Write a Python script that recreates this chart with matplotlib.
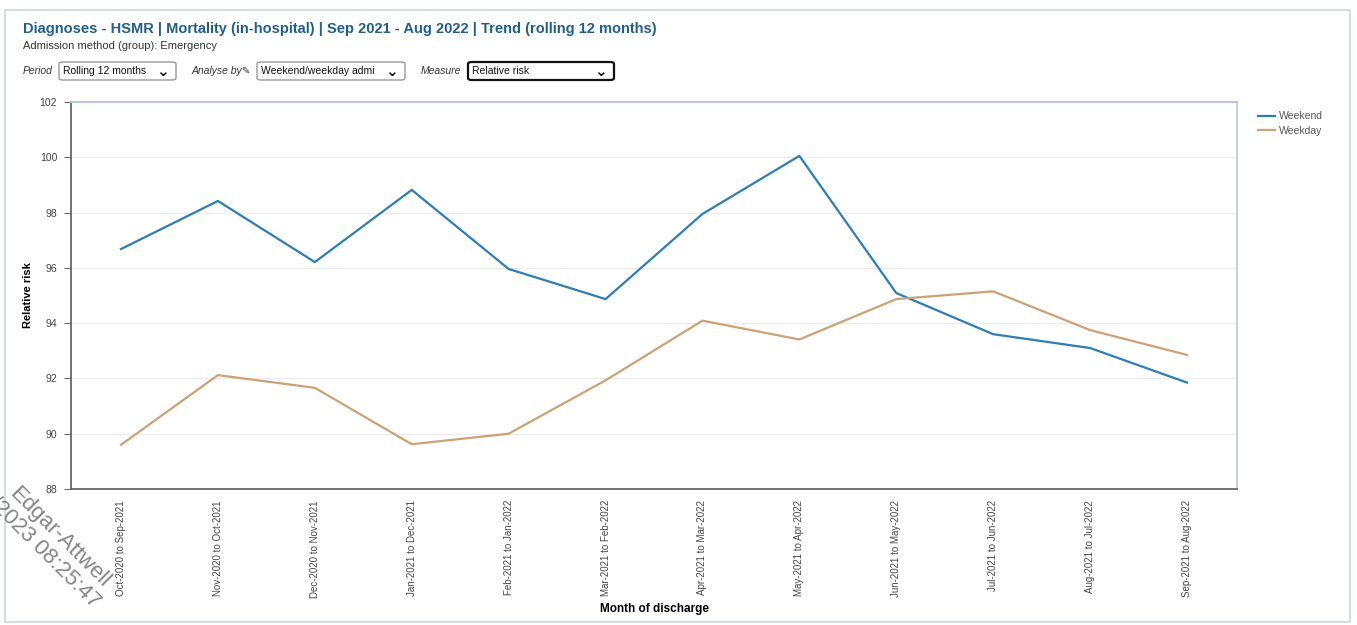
import matplotlib.pyplot as plt
from matplotlib.patches import Rectangle, FancyBboxPatch

plt.rcParams['font.family'] = ['Liberation Sans', 'DejaVu Sans']

periods = ["Oct-2020 to Sep-2021", "Nov-2020 to Oct-2021", "Dec-2020 to Nov-2021",
           "Jan-2021 to Dec-2021", "Feb-2021 to Jan-2022", "Mar-2021 to Feb-2022",
           "Apr-2021 to Mar-2022", "May-2021 to Apr-2022", "Jun-2021 to May-2022",
           "Jul-2021 to Jun-2022", "Aug-2021 to Jul-2022", "Sep-2021 to Aug-2022"]
weekend = [96.68, 98.42, 96.21, 98.82, 95.96, 94.87, 97.95, 100.05, 95.09, 93.60, 93.10, 91.85]
weekday = [89.60, 92.12, 91.66, 89.62, 90.00, 91.93, 94.09, 93.41, 94.87, 95.15, 93.75, 92.85]
yticks = [88, 90, 92, 94, 96, 98, 100, 102]

W, H = 1357, 625
fig = plt.figure(figsize=(W / 100, H / 100), dpi=100)

def fx(px):
    return px / W

def fy(py):
    return 1 - py / H

# outer panel border
fig.patches.append(Rectangle((fx(5), fy(622)), fx(1350 - 5), (622 - 10) / H,
                             transform=fig.transFigure, fill=False,
                             edgecolor="#cdd5dd", lw=1.2))

ax = fig.add_axes([fx(71), fy(489), fx(1237 - 71), (489 - 102) / H])
x = list(range(len(periods)))
ax.plot(x, weekend, color="#2a7fba", lw=1.6, label="Weekend")
ax.plot(x, weekday, color="#cca272", lw=1.6, label="Weekday")

ax.set_xlim(-0.516, len(periods) - 1 + 0.516)
ax.set_ylim(88, 102)
ax.set_yticks(yticks)
ax.set_yticklabels([str(v) for v in yticks], fontsize=7.5, color="#444444")
ax.set_xticks(x)
ax.set_xticklabels(periods, rotation=90, fontsize=7, color="#444444")
ax.tick_params(axis="y", length=5, color="#666666", pad=5)
ax.tick_params(axis="x", length=0, pad=8)
ax.grid(axis="y", color="#ececec", lw=1)
ax.set_axisbelow(True)
for s in ["left", "bottom"]:
    ax.spines[s].set_color("#666666")
    ax.spines[s].set_linewidth(1.3)
ax.spines["top"].set_color("#b9c9d8")
ax.spines["top"].set_linewidth(1.5)
ax.spines["right"].set_color("#c6ccd2")
ax.spines["right"].set_linewidth(1.3)

ax.set_ylabel("Relative risk", fontsize=8, fontweight="bold")
ax.yaxis.set_label_coords((33 - 71) / (1237 - 71), 0.5)
ax.set_xlabel("Month of discharge", fontsize=8.5, fontweight="bold", labelpad=4)

leg = ax.legend(loc="upper left", bbox_to_anchor=(1.01, 1.0), frameon=False,
                fontsize=7.5, handlelength=1.6, handletextpad=0.4, labelspacing=0.45)
for t in leg.get_texts():
    t.set_color("#555555")

# header
fig.text(fx(23), fy(29), "Diagnoses - HSMR | Mortality (in-hospital) | Sep 2021 - Aug 2022 | Trend (rolling 12 months)",
         fontsize=10.5, fontweight="bold", color="#1f5f8b", va="center")
fig.text(fx(23), fy(46), "Admission method (group): Emergency", fontsize=8, color="#333333", va="center")

# filter controls
fig.text(fx(23), fy(71), "Period", fontsize=7.5, style="italic", color="#333333", va="center")
fig.text(fx(192), fy(71), "Analyse by\u270e", fontsize=7.5, style="italic", color="#333333", va="center")
fig.text(fx(421), fy(71), "Measure", fontsize=7.5, style="italic", color="#333333", va="center")
boxes = [(59, 176, "Rolling 12 months", "#999999", 1.0),
         (257, 405, "Weekend/weekday admi", "#999999", 1.0),
         (468, 614, "Relative risk", "#111111", 1.6)]
for x0, x1, label, ec, lw in boxes:
    fig.patches.append(FancyBboxPatch((fx(x0), fy(80)), fx(x1 - x0), 18 / H,
                                      boxstyle="round,pad=0,rounding_size=0.003",
                                      transform=fig.transFigure, fill=False, edgecolor=ec, lw=lw))
    fig.text(fx(x0 + 4), fy(71), label, fontsize=7.5, color="#111111", va="center")
    fig.text(fx(x1 - 14), fy(71), "\u2304", fontsize=11, fontweight="bold", color="#111111",
             va="center", ha="center", family="DejaVu Sans")

# watermark
fig.text(fx(52), fy(545), "Edgar-Attwell\n/2023 08:25:47", rotation=-45, fontsize=16,
         color="#666666", alpha=0.8, ha="center", va="center", rotation_mode="anchor",
         linespacing=1.0)

fig.savefig("out.png", dpi=100)
